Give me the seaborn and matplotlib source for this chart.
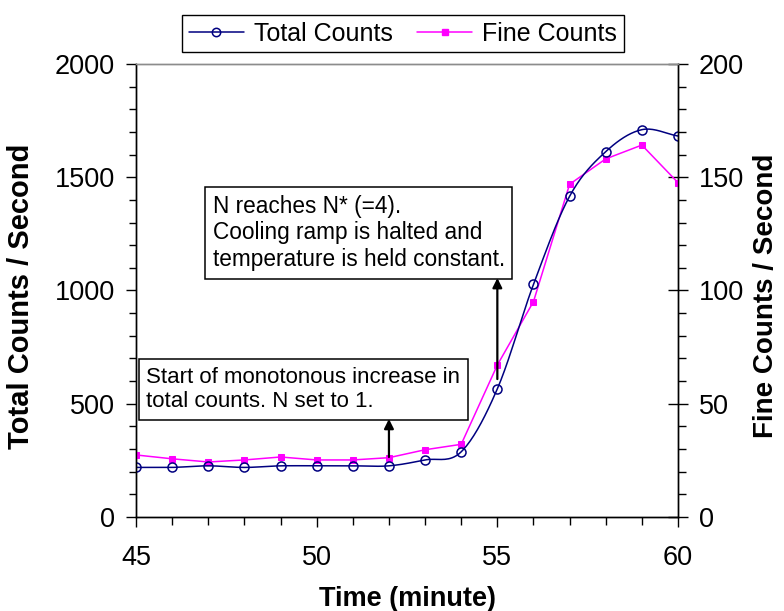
import numpy as np
import pandas as pd
import matplotlib
matplotlib.use("Agg")
import matplotlib.pyplot as plt
from matplotlib.lines import Line2D
from matplotlib.ticker import MultipleLocator
import seaborn as sns

# Measured counts per minute
minutes = [45, 46, 47, 48, 49, 50, 51, 52, 53, 54, 55, 56, 57, 58, 59, 60]
total_counts = [219, 219, 226, 219, 226, 226, 226, 226, 252, 288,
                566, 1027, 1416, 1613, 1710, 1682]
fine_counts = [27.4, 25.7, 24.3, 25.2, 26.5, 25.2, 25.2, 26.2, 29.7, 32.1,
               67.1, 95.1, 146.9, 158.1, 164.2, 147.6]

legend_labels = ["Total Counts", "Fine Counts"]
note_start = "Start of monotonous increase in\ntotal counts. N set to 1."
note_halt = "N reaches N* (=4).\nCooling ramp is halted and\ntemperature is held constant."

sns.set_style("ticks")
plt.rcParams["font.family"] = ["Liberation Sans", "DejaVu Sans"]
plt.rcParams.update({
    "text.color": "black",
    "axes.labelcolor": "black",
    "xtick.color": "black",
    "ytick.color": "black",
    "xtick.labelcolor": "black",
    "ytick.labelcolor": "black",
})

NAVY = "#000080"
MAGENTA = "#FF00FF"


def smooth_curve(x, y, steps=20):
    """Catmull-Rom spline through the points (smoothed line style)."""
    x = np.asarray(x, float)
    y = np.asarray(y, float)
    px = np.concatenate([[2 * x[0] - x[1]], x, [2 * x[-1] - x[-2]]])
    py = np.concatenate([[2 * y[0] - y[1]], y, [2 * y[-1] - y[-2]]])
    xs, ys = [], []
    t = np.linspace(0, 1, steps, endpoint=False)
    for i in range(1, len(px) - 2):
        p0, p1, p2, p3 = px[i - 1], px[i], px[i + 1], px[i + 2]
        q0, q1, q2, q3 = py[i - 1], py[i], py[i + 1], py[i + 2]
        t2, t3 = t * t, t * t * t
        xs.append(0.5 * (2 * p1 + (-p0 + p2) * t + (2 * p0 - 5 * p1 + 4 * p2 - p3) * t2
                         + (-p0 + 3 * p1 - 3 * p2 + p3) * t3))
        ys.append(0.5 * (2 * q1 + (-q0 + q2) * t + (2 * q0 - 5 * q1 + 4 * q2 - q3) * t2
                         + (-q0 + 3 * q1 - 3 * q2 + q3) * t3))
    xs.append([x[-1]])
    ys.append([y[-1]])
    return np.concatenate(xs), np.concatenate(ys)


df = pd.DataFrame({"minute": minutes, "total": total_counts, "fine": fine_counts})
sx, sy = smooth_curve(minutes, total_counts)
curve = pd.DataFrame({"minute": sx, "total": sy})

fig = plt.figure(figsize=(7.84, 6.11), dpi=100)
ax = fig.add_axes([0.1735, 0.1538, 0.6913, 0.7415])
ax2 = ax.twinx()

# Fine counts on the secondary axis (straight segments, square markers)
sns.lineplot(data=df, x="minute", y="fine", ax=ax2, color=MAGENTA, lw=1.1,
             marker="s", markersize=4.2, markeredgecolor=MAGENTA, zorder=3)

# Total counts on the primary axis (smoothed line, open circles)
sns.lineplot(data=curve, x="minute", y="total", ax=ax, color=NAVY, lw=1.1,
             sort=False, estimator=None)
ax.set_zorder(ax2.get_zorder() + 1)
ax.patch.set_visible(False)
ax.plot(df["minute"], df["total"], ls="none", marker="o", markersize=6.5,
        markerfacecolor="none", markeredgecolor=NAVY, markeredgewidth=1.1)

ax.set_xlim(45, 60)
ax.set_ylim(0, 2000)
ax2.set_ylim(0, 200)
ax.set_xticks([45, 50, 55, 60])
ax.xaxis.set_minor_locator(MultipleLocator(1))
ax.set_yticks([0, 500, 1000, 1500, 2000])
ax.yaxis.set_minor_locator(MultipleLocator(100))
ax2.set_yticks([0, 50, 100, 150, 200])
ax2.yaxis.set_minor_locator(MultipleLocator(10))

for a in (ax, ax2):
    for s in a.spines.values():
        s.set_linewidth(1.0)
        s.set_color("black")
    a.spines["top"].set_color("#8c8c8c")
    a.spines["top"].set_visible(True)
    a.spines["right"].set_visible(True)

TICK_FS = 19.5
ax.tick_params(axis="x", which="major", direction="out", length=7, width=1,
               labelsize=TICK_FS, pad=13, colors="black")
ax.tick_params(axis="x", which="minor", direction="out", length=6, width=1)
ax.tick_params(axis="y", which="major", direction="out", length=7, width=1,
               labelsize=TICK_FS, pad=8, colors="black")
ax.tick_params(axis="y", which="minor", direction="out", length=5, width=1)
ax2.tick_params(axis="y", which="major", direction="inout", length=14, width=1,
                labelsize=TICK_FS, pad=8, colors="black")
ax2.tick_params(axis="y", which="minor", direction="out", length=6, width=1)
ax.tick_params(top=False, which="both")
ax2.tick_params(top=False, which="both")

ax.set_xlabel("Time (minute)", fontsize=19.5, fontweight="bold", color="black")
ax.set_ylabel("Total Counts / Second", fontsize=21, fontweight="bold", color="black")
ax2.set_ylabel("Fine Counts / Second", fontsize=20, fontweight="bold", color="black")
ax.xaxis.set_label_coords(0.5, -0.153)
ax.yaxis.set_label_coords(-0.186, 0.488)
ax2.yaxis.set_label_coords(1.139, 0.488)

# Annotations
box_style = dict(boxstyle="square,pad=0.34", facecolor="white",
                 edgecolor="black", linewidth=1.1)
ax.text(45.28, 563, note_start, fontsize=16, ha="left", va="center",
        linespacing=1.2, bbox=box_style, zorder=5, color="black")
ax.text(47.12, 1254, note_halt, fontsize=16.3, ha="left", va="center",
        linespacing=1.22, bbox=box_style, zorder=5, color="black")

arrow_kw = dict(arrowstyle="-|>", color="black", lw=1.6, mutation_scale=14,
                shrinkA=0, shrinkB=0)
ax.annotate("", xy=(52, 433), xytext=(52, 265), arrowprops=arrow_kw, zorder=6)
ax.annotate("", xy=(55, 1055), xytext=(55, 609), arrowprops=arrow_kw, zorder=6)

handles = [
    Line2D([], [], color=NAVY, lw=1.1, marker="o", markersize=6,
           markerfacecolor="none", markeredgecolor=NAVY, markeredgewidth=1.1),
    Line2D([], [], color=MAGENTA, lw=1.1, marker="s", markersize=4.5,
           markeredgecolor=MAGENTA),
]
leg = fig.legend(handles, legend_labels, loc="center", bbox_to_anchor=(0.514, 0.945),
                 ncol=2, fontsize=18, frameon=True, fancybox=False, framealpha=1,
                 edgecolor="black", handlelength=2.2, handletextpad=0.4,
                 columnspacing=1.0, borderpad=0.25)
leg.get_frame().set_linewidth(1.0)
for txt in leg.get_texts():
    txt.set_color("black")

fig.savefig("out.png", dpi=100)
